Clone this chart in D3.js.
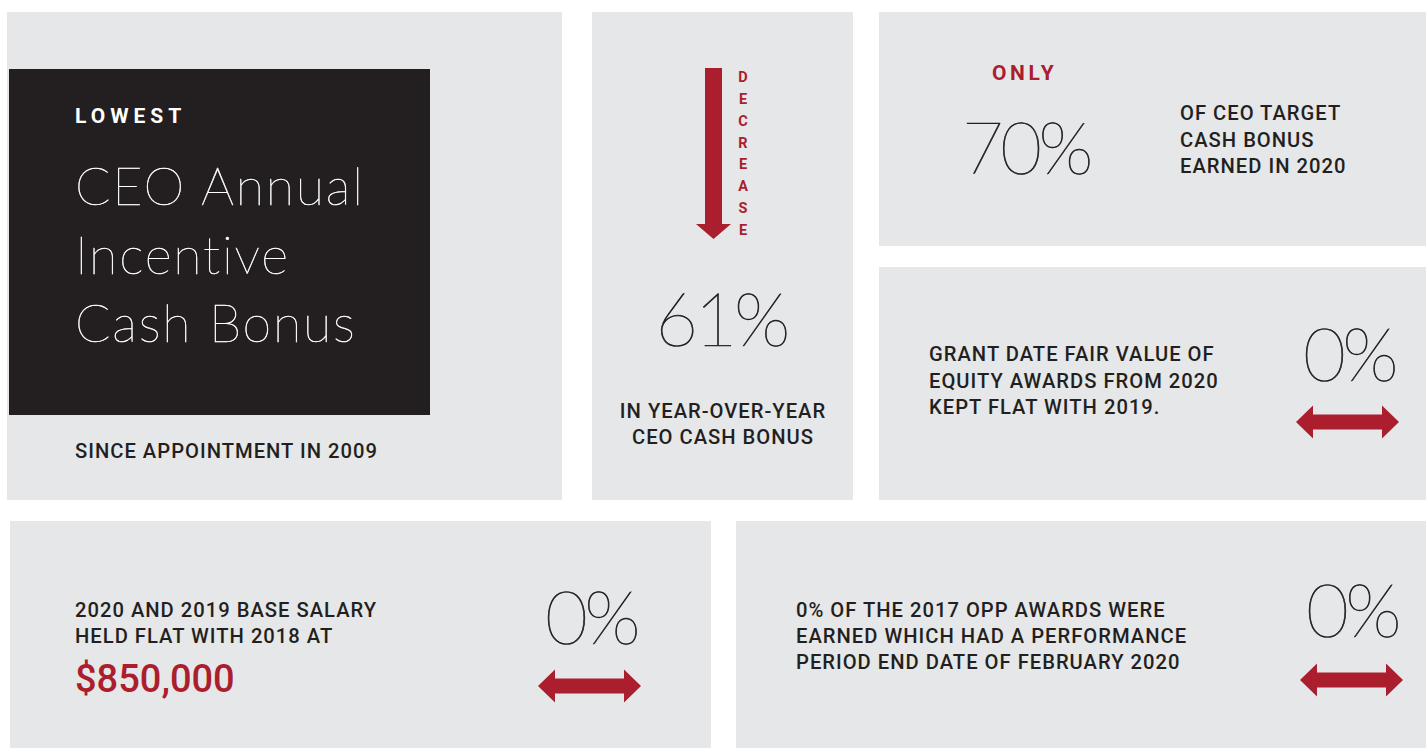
<!DOCTYPE html>
<html>
<head>
<meta charset="utf-8">
<script src="https://cdn.jsdelivr.net/npm/d3@7"></script>
<style>
  body { margin: 0; background: #fff; }
  text { font-family: Roboto, "Noto Sans", sans-serif; }
</style>
</head>
<body>
<div id="chart"></div>
<script>
var pctValues = [0.61, 0.70, 0, 0, 0];   // decrease, target earned, equity, salary, opp
var kickers = ["LOWEST", "DECREASE", "ONLY"];
var leadLines = ["CEO Annual", "Incentive", "Cash Bonus"];
var sinceLines = ["SINCE APPOINTMENT IN 2009"];
var decreaseLines = ["IN YEAR-OVER-YEAR", "CEO CASH BONUS"];
var targetLines = ["OF CEO TARGET", "CASH BONUS", "EARNED IN 2020"];
var equityLines = ["GRANT DATE FAIR VALUE OF", "EQUITY AWARDS FROM 2020", "KEPT FLAT WITH 2019."];
var salaryLines = ["2020 AND 2019 BASE SALARY", "HELD FLAT WITH 2018 AT"];
var salaryValue = 850000;
var oppLines = ["0% OF THE 2017 OPP AWARDS WERE", "EARNED WHICH HAD A PERFORMANCE", "PERIOD END DATE OF FEBRUARY 2020"];

var width = 1426, height = 748;
var grey = "#e6e7e8", dark = "#231f20", red = "#ab1e2d";
var fmtPct = d3.format(".0%");
var fmtUsd = d3.format("$,");

var svg = d3.select("#chart").append("svg")
  .attr("width", width)
  .attr("height", height);

// panel boxes
var panels = [
  {x: 7, y: 12, w: 555, h: 488},
  {x: 592, y: 12, w: 261, h: 488},
  {x: 879, y: 12, w: 547, h: 234},
  {x: 879, y: 267, w: 547, h: 233},
  {x: 10, y: 521, w: 701, h: 227},
  {x: 736, y: 521, w: 690, h: 227}
];
svg.selectAll("rect.panel")
  .data(panels)
  .enter().append("rect")
  .attr("class", "panel")
  .attr("x", d => d.x).attr("y", d => d.y)
  .attr("width", d => d.w).attr("height", d => d.h)
  .attr("fill", grey);

// dark block
svg.append("rect")
  .attr("x", 9).attr("y", 69)
  .attr("width", 421).attr("height", 346)
  .attr("fill", dark);

// multi-line text helper
function lines(x, y, data, step, opts) {
  var g = svg.append("g");
  g.selectAll("text")
    .data(data)
    .enter().append("text")
    .attr("x", x)
    .attr("y", (d, i) => y + i * step)
    .attr("text-anchor", opts.anchor || "start")
    .attr("fill", opts.fill || dark)
    .attr("stroke", opts.stroke ? (opts.fill || dark) : null)
    .attr("stroke-width", opts.stroke || null)
    .style("font-size", (opts.size || 20.2) + "px")
    .style("font-weight", opts.weight || 500)
    .style("font-family", opts.family || null)
    .style("letter-spacing", (opts.spacing == null ? 1 : opts.spacing) + "px")
    .text(d => d);
  return g;
}

var thin = "Lato, Roboto, sans-serif";
var big = {size: 74, weight: 200, anchor: "middle", family: thin, spacing: -3.5, stroke: 0.7};

// panel A
lines(75, 123, [kickers[0]], 0, {size: 21, weight: 700, fill: "#fff", spacing: 5});
lines(75, 205, leadLines, 68.5, {size: 52, weight: 200, fill: "#fff", family: thin, spacing: 1.8, stroke: 0.5});
lines(75, 458, sinceLines, 0, {});

// panel B: down arrow + vertical word
var y = d3.scaleLinear().domain([0, 1]).range([68, 239]);
var ax = 713.5, shaft = 8.5, head = 17.5, headLen = 15;
var arrowPts = [
  [ax - shaft, y(0)], [ax + shaft, y(0)], [ax + shaft, y(1) - headLen],
  [ax + head, y(1) - headLen], [ax, y(1)], [ax - head, y(1) - headLen],
  [ax - shaft, y(1) - headLen]
];
svg.append("path")
  .attr("d", d3.line()(arrowPts) + "Z")
  .attr("fill", red);

var letters = kickers[1].split("");
var ly = d3.scalePoint().domain(d3.range(letters.length)).range([82, 235]);
svg.selectAll("text.letter")
  .data(letters)
  .enter().append("text")
  .attr("class", "letter")
  .attr("x", 743).attr("y", (d, i) => ly(i))
  .attr("text-anchor", "middle")
  .attr("fill", red)
  .style("font-size", "14.5px").style("font-weight", 700)
  .text(d => d);

lines(721, 346, [fmtPct(pctValues[0])], 0, big);
lines(723, 418, decreaseLines, 26, {anchor: "middle"});

// panel C
lines(992, 80, [kickers[2]], 0, {size: 21, weight: 700, fill: red, spacing: 3.6});
lines(1026, 174, [fmtPct(pctValues[1])], 0, Object.assign({}, big, {size: 72}));
lines(1180, 120, targetLines, 26.5, {});

// double arrow helper
function doubleArrow(x0, x1, cy) {
  var s = 7.5, h = 16.5, hl = 17;
  var pts = [
    [x0, cy], [x0 + hl, cy - h], [x0 + hl, cy - s], [x1 - hl, cy - s],
    [x1 - hl, cy - h], [x1, cy], [x1 - hl, cy + h], [x1 - hl, cy + s],
    [x0 + hl, cy + s], [x0 + hl, cy + h]
  ];
  svg.append("path").attr("d", d3.line()(pts) + "Z").attr("fill", red);
}

// panel D
lines(929, 361, equityLines, 26.7, {});
lines(1349, 381, [fmtPct(pctValues[2])], 0, big);
doubleArrow(1296, 1399, 422);

// panel E
lines(75, 617, salaryLines, 26, {});
lines(75, 692, [fmtUsd(salaryValue)], 0, {size: 38, fill: red, spacing: 0});
lines(591, 644, [fmtPct(pctValues[3])], 0, big);
doubleArrow(538, 641, 686);

// panel F
lines(796, 617, oppLines, 26, {});
lines(1352, 637, [fmtPct(pctValues[4])], 0, big);
doubleArrow(1300, 1403, 680);
</script>
</body>
</html>
